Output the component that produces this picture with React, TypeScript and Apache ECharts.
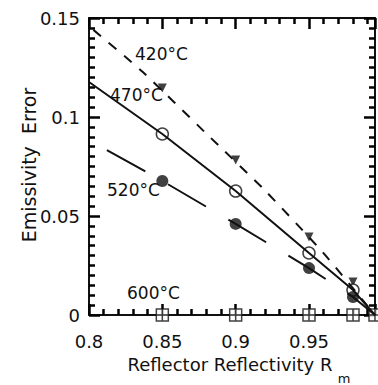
import React, { useEffect, useRef } from "react";
import * as echarts from "echarts";

// Reflector reflectivity Rm at which the measurements were taken
const rm = [0.85, 0.9, 0.95, 0.98];
const X_MIN = 0.8;
const X_MAX = 0.995;
const Y_MIN = 0;
const Y_MAX = 0.15;

// Emissivity error at each Rm
const err420 = [0.1146, 0.0783, 0.0394, 0.0167];
const err470 = [0.0914, 0.0626, 0.0313, 0.0126];
const err520 = [0.0677, 0.046, 0.0237, 0.0091];
const rm600 = [0.85, 0.9, 0.95, 0.98, 0.995];
const err600 = [0, 0, 0, 0, 0];

// 420°C fitted (dashed) curve
const fit420X = [0.803, 0.8367, 0.8789, 0.9197, 0.9592, 0.995];
const fit420Y = [0.144, 0.1227, 0.0924, 0.0631, 0.0318, 0];
// 470°C line
const line470X = [0.8, 0.85, 0.9, 0.95, 0.98, 0.995];
const line470Y = [0.1177, 0.0914, 0.0626, 0.0313, 0.0126, 0];
// 520°C line
const line520X = [0.8122, 0.85, 0.9, 0.95, 0.98, 0.995];
const line520Y = [0.0833, 0.0677, 0.046, 0.0237, 0.0091, 0];

const xTickValues = [0.8, 0.85, 0.9, 0.95];
const xTickLabels = ["0.8", "0.85", "0.9", "0.95"];
const yTickValues = [0, 0.05, 0.1, 0.15];
const yTickLabels = ["0", "0.05", "0.1", "0.15"];

const INK = "#111";
const TICK = "#000";
const FONT = "DejaVu Sans";

const zip = (a: number[], b: number[]) => a.map((v, i) => [v, b[i]]);
const fmt = (vals: number[], labels: string[]) => (v: number) => {
  const i = vals.findIndex((t) => Math.abs(t - v) < 1e-6);
  return i >= 0 ? labels[i] : "";
};

function makeAxis(kind: string, position: string, showLabel: boolean) {
  const isX = kind === "x";
  const axis: any = {
    type: "value",
    position,
    min: isX ? X_MIN : Y_MIN,
    max: isX ? X_MAX : Y_MAX,
    interval: 0.05,
    axisLine: { show: true, lineStyle: { color: INK, width: 2 } },
    axisTick: { show: true, inside: true, length: 11, lineStyle: { color: TICK, width: 2.5 } },
    minorTick: { show: true, splitNumber: isX ? 5 : 10, length: 6, lineStyle: { color: TICK, width: 2.5 } },
    splitLine: { show: false },
    axisLabel: showLabel
      ? {
          show: true,
          formatter: isX ? fmt(xTickValues, xTickLabels) : fmt(yTickValues, yTickLabels),
          margin: isX ? 17 : 9,
          color: INK,
          fontFamily: FONT,
          fontSize: 18,
        }
      : { show: false },
  };
  if (position === "top") axis.axisLine.onZero = false;
  return axis;
}

export default function App() {
  const ref = useRef<HTMLDivElement>(null);
  useEffect(() => {
    if (!ref.current) return;
    const chart = echarts.init(ref.current, undefined, { renderer: "svg" });
    const labelText = (text: string, x: number, y: number, size = 17) => ({
      type: "text",
      x,
      y,
      style: {
        text,
        fill: INK,
        font: `${size}px "${FONT}"`,
        align: "left",
        verticalAlign: "middle",
      },
    });
    chart.setOption({
      animation: false,
      backgroundColor: "#fff",
      grid: { left: 89, right: 3, top: 18, bottom: 70 },
      xAxis: [makeAxis("x", "bottom", true), makeAxis("x", "top", false)],
      yAxis: [makeAxis("y", "left", true), makeAxis("y", "right", false)],
      series: [
        {
          type: "line",
          data: zip(fit420X, fit420Y),
          smooth: 0.2,
          symbol: "none",
          lineStyle: { color: INK, width: 2, type: [10, 10] },
        },
        {
          type: "line",
          data: zip(line470X, line470Y),
          symbol: "none",
          lineStyle: { color: INK, width: 2 },
        },
        {
          type: "line",
          data: zip(line520X, line520Y),
          symbol: "none",
          lineStyle: { color: INK, width: 2, type: [44, 26] },
        },
        {
          type: "scatter",
          data: zip(rm, err420),
          symbol: "triangle",
          symbolRotate: 180,
          symbolSize: [9, 9],
          itemStyle: { color: INK },
        },
        {
          type: "scatter",
          data: zip(rm, err470),
          symbol: "circle",
          symbolSize: 12,
          itemStyle: { color: "#fff", borderColor: INK, borderWidth: 1.5 },
        },
        {
          type: "scatter",
          data: zip(rm, err520),
          symbol: "circle",
          symbolSize: 12,
          itemStyle: { color: INK },
        },
        {
          type: "scatter",
          data: zip(rm600, err600),
          symbol: "path://M0,0H12V12H0Z M6,0V12 M0,6H12",
          symbolSize: 12,
          itemStyle: { color: "#fff", borderColor: INK, borderWidth: 1.5 },
          clip: false,
        },
      ],
      graphic: [
        labelText("420°C", 135, 54),
        labelText("470°C", 110, 95),
        labelText("520°C", 107, 190),
        labelText("600°C", 127, 293),
        {
          type: "text",
          x: 230,
          y: 364,
          style: {
            text: "Reflector Reflectivity R",
            fill: INK,
            font: `18px "${FONT}"`,
            align: "center",
            verticalAlign: "middle",
          },
        },
        {
          type: "text",
          x: 344,
          y: 378,
          style: {
            text: "m",
            fill: INK,
            font: `13px "${FONT}"`,
            align: "center",
            verticalAlign: "middle",
          },
        },
        {
          type: "text",
          x: 29,
          y: 165,
          rotation: Math.PI / 2,
          style: {
            text: "Emissivity  Error",
            fill: INK,
            font: `19px "${FONT}"`,
            align: "center",
            verticalAlign: "middle",
          },
        },
      ],
    });
    return () => chart.dispose();
  }, []);
  return (
    <div
      ref={ref}
      style={{ position: "fixed", left: 0, top: 0, width: 378, height: 385, background: "#fff" }}
    />
  );
}
